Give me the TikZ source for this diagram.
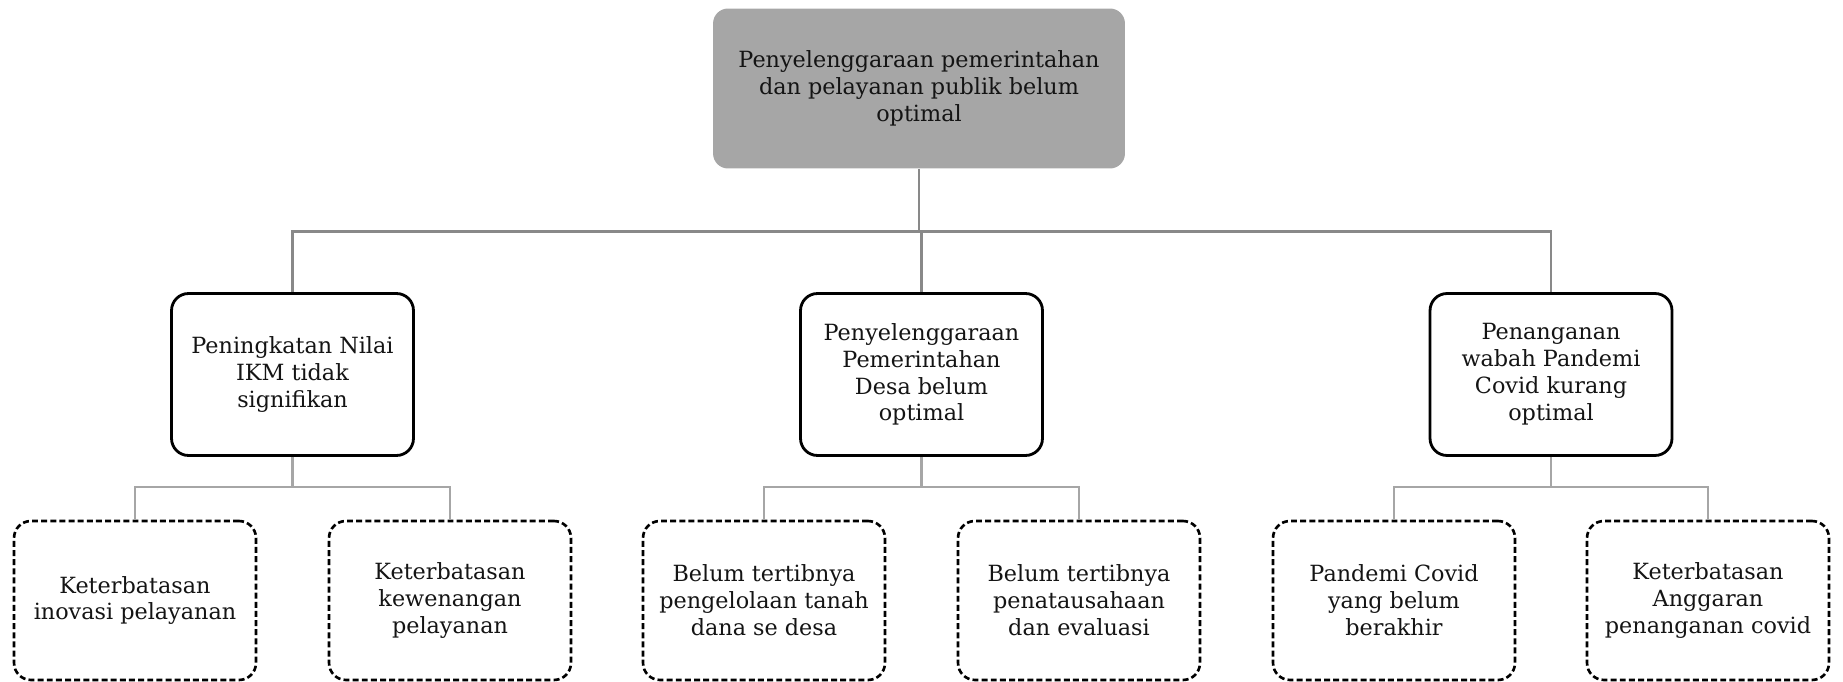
\documentclass[tikz,border=0pt]{standalone}
\usepackage{fontspec}
\setmainfont{DejaVu Serif}
\usetikzlibrary{positioning}
\definecolor{headcolor}{RGB}{166, 166, 166}
\definecolor{linkcolor}{RGB}{137, 137, 137}
\definecolor{sublinkcolor}{RGB}{166, 166, 166}
\definecolor{labelcolor}{RGB}{20, 20, 20}
\tikzset{
blocktext/.style={
  align=center,
  font=\fontsize{12.7}{15.3}\selectfont,
  text=labelcolor
},
headblock/.style={
  fill=headcolor,
  rounded corners=0.3cm,
  minimum width=8.24cm,
  minimum height=3.2cm,
  blocktext
},
causeblock/.style={
  draw,
  line width=1.6pt,
  rounded corners=0.34cm,
  minimum width=4.84cm,
  minimum height=3.24cm,
  blocktext
},
subblock/.style={
  draw,
  line width=1.5pt,
  dash pattern=on 3.4pt off 1.8pt,
  rounded corners=0.34cm,
  minimum width=4.84cm,
  minimum height=3.18cm,
  blocktext
},
link/.style={
  draw=linkcolor,
  line width=1.4pt
},
sublink/.style={
  draw=sublinkcolor,
  line width=1.4pt
}
}

\begin{document}
\begin{tikzpicture}[x=0.02cm, y=-0.02cm]
  \useasboundingbox (0,0) rectangle (1843,682);
  \node[headblock] (head) at (919,88.5) {Penyelenggaraan pemerintahan\\dan pelayanan publik belum\\optimal};

  \node[causeblock] (m1) at (292.5,374.5) {Peningkatan Nilai\\IKM tidak\\signifikan};
  \node[causeblock] (m2) at (921.5,374.5) {Penyelenggaraan\\Pemerintahan\\Desa belum\\optimal};
  \node[causeblock] (m3) at (1551,374.5) {Penanganan\\wabah Pandemi\\Covid kurang\\optimal};

  \node[subblock] (s1) at (135,600.5) {Keterbatasan\\inovasi pelayanan};
  \node[subblock] (s2) at (450,600.5) {Keterbatasan\\kewenangan\\pelayanan};
  \node[subblock] (s3) at (764,600.5) {Belum tertibnya\\pengelolaan tanah\\dana se desa};
  \node[subblock] (s4) at (1079,600.5) {Belum tertibnya\\penatausahaan\\dan evaluasi};
  \node[subblock] (s5) at (1394,600.5) {Pandemi Covid\\yang belum\\berakhir};
  \node[subblock] (s6) at (1708,600.5) {Keterbatasan\\Anggaran\\penanganan covid};

  \coordinate (bus) at (919,231.5);
  \draw[link] (head.south) -- (head.south |- bus);
  \draw[link] (m1.north) |- (bus -| m3.north) -- (m3.north);
  \draw[link] (m2.north) -- (m2.north |- bus);

  \foreach \m/\a/\b in {m1/s1/s2, m2/s3/s4, m3/s5/s6} {
    \draw[sublink] (\m.south) -- ++(0,30) coordinate (\m-bus);
    \draw[sublink] (\a.north) |- (\m-bus) -| (\b.north);
  }
\end{tikzpicture}
\end{document}
